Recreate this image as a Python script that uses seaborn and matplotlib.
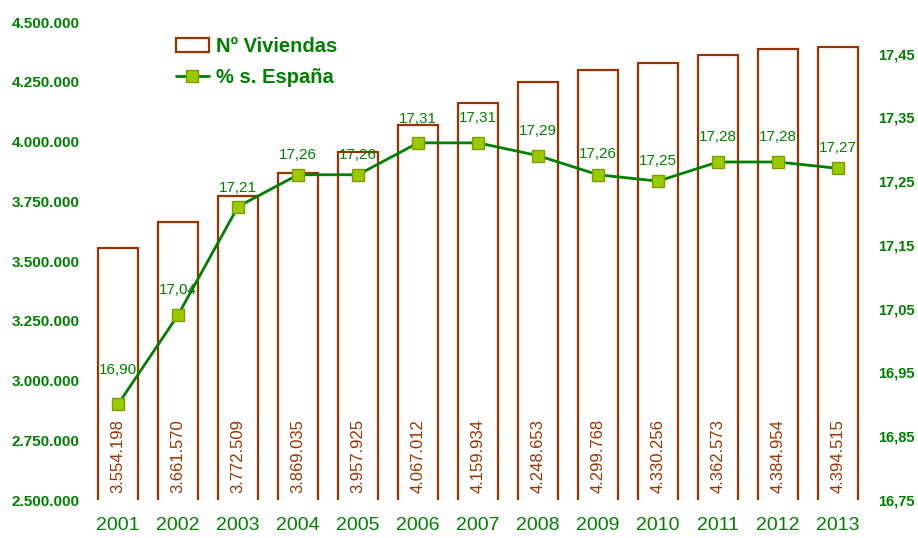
import matplotlib
matplotlib.use("Agg")
import numpy as np
import pandas as pd
import matplotlib.pyplot as plt
import seaborn as sns
from matplotlib.lines import Line2D
from matplotlib.patches import Patch

years = ["2001", "2002", "2003", "2004", "2005", "2006", "2007",
         "2008", "2009", "2010", "2011", "2012", "2013"]
viviendas = [3554198, 3661570, 3772509, 3869035, 3957925, 4067012, 4159934,
             4248653, 4299768, 4330256, 4362573, 4384954, 4394515]
pct_espana = [16.90, 17.04, 17.21, 17.26, 17.26, 17.31, 17.31,
              17.29, 17.26, 17.25, 17.28, 17.28, 17.27]

# how far (px) each % label sits above its marker, as in the original
label_lift = [34, 25, 19, 20, 20, 24, 25, 25, 21, 20, 25, 25, 20]

GREEN = "#008000"
BROWN = "#993300"
MARKER = "#99cc00"
FONT = ["Liberation Sans", "DejaVu Sans"]


def es_int(v):
    return f"{v:,}".replace(",", ".")


def es_dec(v, nd=2):
    return f"{v:.{nd}f}".replace(".", ",")


sns.set_theme(style="white")
plt.rcParams["font.family"] = FONT

df = pd.DataFrame({"year": years, "viviendas": viviendas, "pct": pct_espana})

fig = plt.figure(figsize=(9.18, 5.38), dpi=100)
ax = fig.add_axes([88 / 918, 38 / 538, 780 / 918, 478 / 538])

sns.barplot(data=df, x="year", y="viviendas", ax=ax, color="white",
            edgecolor=BROWN, linewidth=1.6, width=0.66, saturation=1)
ax.set_ylim(2500000, 4500000)
ax.set_yticks(np.arange(2500000, 4500001, 250000))
ax.set_yticklabels([es_int(int(t)) for t in ax.get_yticks()],
                   fontsize=11, fontweight="bold", color=GREEN)
ax.set_xlabel("")
ax.set_ylabel("")
ax.tick_params(axis="x", labelsize=14, labelcolor=GREEN, length=0, pad=12)
ax.tick_params(axis="y", length=0, pad=6)
for s in ax.spines.values():
    s.set_visible(False)

for i, v in enumerate(viviendas):
    ax.annotate(es_int(v), (i, 2500000), xytext=(0, 5), textcoords="offset points",
                rotation=90, ha="center", va="bottom", fontsize=12, color=BROWN)

ax2 = ax.twinx()
sns.lineplot(x=np.arange(len(years)), y=pct_espana, ax=ax2, color=GREEN,
             linewidth=2, marker="s", markersize=8, markerfacecolor=MARKER,
             markeredgecolor="#7f9900", markeredgewidth=1)
ax2.set_ylim(16.75, 17.4995)
ax2.set_yticks(np.arange(16.75, 17.46, 0.10))
ax2.set_yticklabels([es_dec(t) for t in ax2.get_yticks()],
                    fontsize=10.5, fontweight="bold", color=GREEN)
ax2.tick_params(axis="y", length=0, pad=7)
for s in ax2.spines.values():
    s.set_visible(False)
ax.set_xlim(-0.5, len(years) - 0.5)

for i, v in enumerate(pct_espana):
    ax2.annotate(es_dec(v), (i, v), xytext=(0, label_lift[i] * 0.72),
                 textcoords="offset points", ha="center", va="center",
                 fontsize=11, color=GREEN)

handles = [
    Patch(facecolor="white", edgecolor=BROWN, linewidth=1.6),
    Line2D([0], [0], color=GREEN, linewidth=2, marker="s", markersize=8,
           markerfacecolor=MARKER, markeredgecolor="#7f9900"),
]
leg = ax2.legend(handles, ["Nº Viviendas", "% s. España"], loc="upper left",
                 bbox_to_anchor=(0.09, 1.007), frameon=False, handlelength=1.6,
                 handletextpad=0.35, labelspacing=0.6,
                 prop={"weight": "bold", "size": 14.5})
for t in leg.get_texts():
    t.set_color(GREEN)

fig.savefig("out.png", dpi=100)
